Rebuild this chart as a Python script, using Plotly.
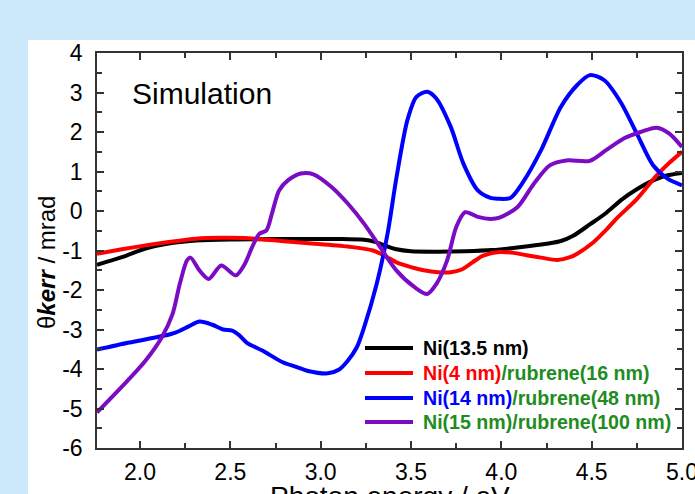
import plotly.graph_objects as go

# ---------------- data ----------------
e_black = [1.762, 1.90, 2.03, 2.15, 2.31, 2.50, 2.80, 3.10, 3.24, 3.30, 3.36, 3.42, 3.50, 3.65,
           3.80, 3.95, 4.10, 4.25, 4.33, 4.40, 4.49, 4.58, 4.67, 4.75, 4.82, 4.90, 5.00]
v_black = [-1.36, -1.17, -0.95, -0.83, -0.75, -0.72, -0.71, -0.71, -0.73, -0.78, -0.88, -0.97, -1.02, -1.03,
           -1.02, -0.99, -0.92, -0.83, -0.76, -0.62, -0.34, -0.05, 0.30, 0.55, 0.73, 0.88, 0.96]

e_red = [1.762, 1.90, 2.03, 2.15, 2.31, 2.45, 2.60, 2.78, 2.95, 3.15, 3.29, 3.36, 3.42, 3.50, 3.57,
         3.65, 3.72, 3.78, 3.84, 3.90, 3.99, 4.07, 4.14, 4.22, 4.31, 4.38, 4.42, 4.51, 4.58, 4.64,
         4.75, 4.86, 4.93, 5.00]
v_red = [-1.08, -0.97, -0.87, -0.79, -0.70, -0.68, -0.69, -0.76, -0.82, -0.90, -1.00, -1.15, -1.30, -1.42, -1.50,
         -1.55, -1.55, -1.48, -1.30, -1.13, -1.04, -1.06, -1.12, -1.18, -1.24, -1.17, -1.08, -0.79, -0.48, -0.18,
         0.30, 0.90, 1.22, 1.50]

e_blue = [1.762, 1.94, 2.13, 2.20, 2.27, 2.33, 2.40, 2.46, 2.51, 2.55, 2.59, 2.68, 2.79, 2.86, 2.93,
          3.04, 3.10, 3.15, 3.20, 3.24, 3.31, 3.37, 3.42, 3.48, 3.53, 3.59, 3.64, 3.72, 3.79, 3.87,
          3.94, 3.98, 4.05, 4.12, 4.22, 4.33, 4.42, 4.49, 4.57, 4.66, 4.75, 4.84, 4.92, 5.00]
v_blue = [-3.51, -3.33, -3.16, -3.07, -2.92, -2.80, -2.88, -3.00, -3.03, -3.15, -3.33, -3.54, -3.83, -3.94, -4.05,
          -4.11, -4.02, -3.79, -3.45, -2.95, -1.85, -0.58, 0.86, 2.30, 2.89, 3.02, 2.85, 2.13, 1.20, 0.52,
          0.33, 0.31, 0.33, 0.73, 1.54, 2.64, 3.19, 3.44, 3.31, 2.76, 1.96, 1.16, 0.82, 0.65]

e_purple = [1.762, 1.93, 2.03, 2.12, 2.18, 2.22, 2.26, 2.28, 2.33, 2.38, 2.45, 2.53, 2.58, 2.62, 2.66,
            2.70, 2.73, 2.77, 2.82, 2.89, 2.96, 3.06, 3.15, 3.24, 3.33, 3.42, 3.52, 3.59, 3.64, 3.70,
            3.75, 3.80, 3.87, 3.94, 3.99, 4.09, 4.18, 4.27, 4.36, 4.49, 4.58, 4.68, 4.77, 4.86, 4.93, 5.00]
v_purple = [-5.10, -4.30, -3.79, -3.20, -2.61, -1.85, -1.25, -1.18, -1.51, -1.72, -1.38, -1.63, -1.34, -0.92, -0.58,
            -0.49, -0.07, 0.52, 0.78, 0.95, 0.93, 0.61, 0.19, -0.32, -0.92, -1.51, -1.93, -2.10, -1.85, -1.25,
            -0.41, -0.03, -0.15, -0.20, -0.17, 0.10, 0.69, 1.16, 1.28, 1.27, 1.54, 1.84, 2.00, 2.11, 1.96, 1.62]

x_tickvals = [2.0, 2.5, 3.0, 3.5, 4.0, 4.5, 5.0]
x_ticktext = ["2.0", "2.5", "3.0", "3.5", "4.0", "4.5", "5.0"]
y_tickvals = [-6, -5, -4, -3, -2, -1, 0, 1, 2, 3, 4]
y_ticktext = ["-6", "-5", "-4", "-3", "-2", "-1", "0", "1", "2", "3", "4"]

series_names = ["Ni(13.5 nm)", "Ni(4 nm)/rubrene(16 nm)",
                "Ni(14 nm)/rubrene(48 nm)", "Ni(15 nm)/rubrene(100 nm)"]
series_colors = ["#000000", "#ff0000", "#0000ff", "#7a0cc4"]
GREEN = "#1e8c1e"
legend_labels = [
    "<b>Ni(13.5 nm)</b>",
    "<b><span style='color:#ff0000'>Ni(4 nm)</span><span style='color:%s'>/rubrene(16 nm)</span></b>" % GREEN,
    "<b><span style='color:#0000ff'>Ni(14 nm)</span><span style='color:%s'>/rubrene(48 nm)</span></b>" % GREEN,
    "<b><span style='color:%s'>Ni(15 nm)/rubrene(100 nm)</span></b>" % GREEN,
]

FONT = "Liberation Sans, Arial, sans-serif"

fig = go.Figure()
for xs, ys, nm, col in zip([e_black, e_red, e_blue, e_purple],
                           [v_black, v_red, v_blue, v_purple],
                           series_names, series_colors):
    fig.add_trace(go.Scatter(x=xs, y=ys, name=nm, mode="lines",
                             line=dict(color=col, width=4, shape="spline", smoothing=0.8),
                             showlegend=False))

# geometry helpers (plot area in pixels)
L, R, T, B = 97, 682, 53, 448
W, H = R - L, B - T
def px(xp):
    return (xp - L) / W
def py(yp):
    return (B - yp) / H

shapes = [
    dict(type="rect", xref="paper", yref="paper", x0=px(28), x1=1.3, y0=-0.4, y1=py(40),
         fillcolor="white", line=dict(width=0), layer="below"),
]
annotations = [
    dict(text="Simulation", xref="paper", yref="paper", x=px(130), y=py(75),
         xanchor="left", yanchor="top", showarrow=False,
         font=dict(family=FONT, size=30, color="black")),
    dict(text="θ<b><i>kerr</i></b> / mrad",
         xref="paper", yref="paper",
         x=px(46), y=py(263), xanchor="center", yanchor="middle", textangle=-90,
         showarrow=False, font=dict(family=FONT, size=24, color="black")),
    dict(text="Photon energy / eV", xref="paper", yref="paper", x=0.5, y=py(479),
         xanchor="center", yanchor="top", showarrow=False,
         font=dict(family=FONT, size=28, color="black")),
]
rows = [348, 373, 398, 422]
for ry, col, lab in zip(rows, series_colors, legend_labels):
    shapes.append(dict(type="line", xref="paper", yref="paper", x0=px(365), x1=px(413),
                       y0=py(ry), y1=py(ry), line=dict(color=col, width=4)))
    annotations.append(dict(text=lab, xref="paper", yref="paper", x=px(421), y=py(ry),
                            xanchor="left", yanchor="middle", showarrow=False,
                            font=dict(family=FONT, size=19.6, color="black")))

axis_common = dict(showgrid=False, zeroline=False, showline=True, linecolor="#333333",
                   linewidth=1.5, mirror="ticks", ticks="inside", ticklen=7, tickwidth=1.5,
                   tickcolor="#333333", ticklabeloverflow="allow", automargin=False,
                   tickfont=dict(family=FONT, size=23, color="black"))

fig.update_layout(
    width=695, height=494,
    margin=dict(l=L, r=695 - R, t=T, b=494 - B, pad=0, autoexpand=False),
    paper_bgcolor="#cce9fa", plot_bgcolor="white",
    xaxis=dict(range=[1.762, 5.0], tickvals=x_tickvals, ticktext=x_ticktext,
               minor=dict(dtick=0.25, tick0=0, ticks="inside", ticklen=5, tickwidth=1.5,
                          tickcolor="#333333"),
               ticklabelstandoff=3, **axis_common),
    yaxis=dict(range=[-6, 4], tickvals=y_tickvals, ticktext=y_ticktext,
               minor=dict(dtick=0.5, tick0=0, ticks="inside", ticklen=5, tickwidth=1.5,
                          tickcolor="#333333"),
               ticklabelstandoff=8, **axis_common),
    shapes=shapes, annotations=annotations, showlegend=False,
)

fig.write_html("out.html")
